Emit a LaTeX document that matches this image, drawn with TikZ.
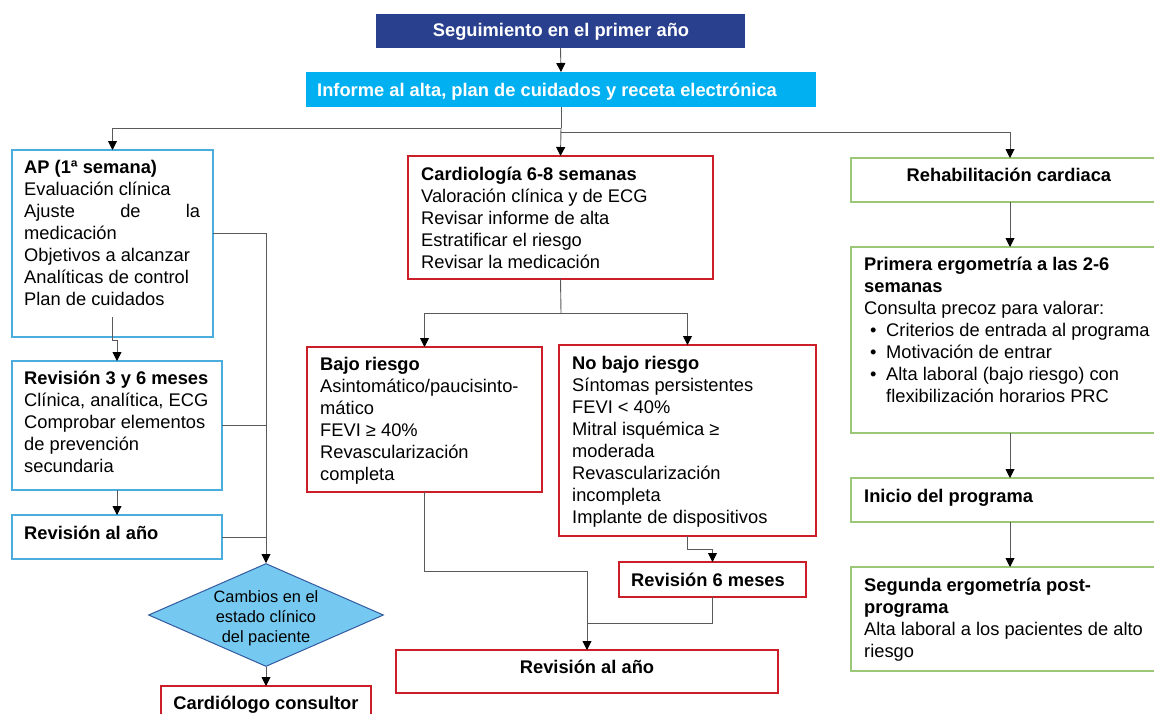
\documentclass[tikz,border=0pt]{standalone}
\usepackage{fontspec}
\setmainfont{Liberation Sans}
\usetikzlibrary{arrows.meta,shapes.geometric}
\definecolor{navyb}{RGB}{41,64,143}
\definecolor{cyanb}{RGB}{0,176,240}
\definecolor{blueb}{RGB}{75,172,222}
\definecolor{redb}{RGB}{204,30,40}
\definecolor{greenb}{RGB}{155,200,120}
\definecolor{diafill}{RGB}{117,201,240}
\definecolor{diadraw}{RGB}{50,90,160}
\definecolor{linec}{RGB}{90,90,90}
\begin{document}
\begin{tikzpicture}[x=1pt,y=-1pt,
  bx/.style 2 args={minimum width=#1, minimum height=#2, anchor=north west, inner sep=0pt, outer sep=0pt, line width=1.5pt},
  bluebox/.style={draw=blueb},
  redbox/.style={draw=redb},
  greenbox/.style={draw=greenb},
  txt/.style={inner sep=0pt, anchor=base west, font=\fontsize{18.3}{22}\selectfont},
  ctxt/.style={inner sep=0pt, anchor=base, font=\fontsize{18.3}{22}\selectfont},
  conn/.style={draw=linec, line width=0.9pt},
  arr/.style={conn, -{Triangle[width=9pt,length=9pt,color=black]}}]
\useasboundingbox (0,0) rectangle (1154,713);
\fill[white] (0,0) rectangle (1154,713);
\clip (0,0) rectangle (1154,713);

% top
\node[bx={369pt}{34pt}, fill=navyb] (title) at (376,14) {};
\node[ctxt, text=white] (titlet) at (561,36) {\textbf{Seguimiento en el primer año}};
\node[bx={510pt}{35pt}, fill=cyanb] (inf) at (306,72) {};
\node[txt, text=white] (inft) at (317,96) {\textbf{Informe al alta, plan de cuidados y receta electrónica}};

% left column
\node[bx={201pt}{187pt}, bluebox] (ap) at (12,150) {};
\node[txt] (apt) at (24,173) {\parbox[t]{190pt}{\textbf{AP (1ª semana)}\\Evaluación clínica\\\hbox to 176pt{Ajuste\hfill de\hfill la}\\medicación\\Objetivos a alcanzar\\Analíticas de control\\Plan de cuidados}};
\node[bx={210pt}{129pt}, bluebox] (rev36) at (12,361) {};
\node[txt] (rev36t) at (24,384) {\parbox[t]{200pt}{\textbf{Revisión 3 y 6 meses}\\Clínica, analítica, ECG\\Comprobar elementos\\de prevención\\secundaria}};
\node[bx={210pt}{44pt}, bluebox] (revl) at (12,515) {};
\node[txt] (revlt) at (24,539) {\textbf{Revisión al año}};

\node[diamond, draw=diadraw, fill=diafill, line width=1pt, minimum width=235pt, minimum height=103pt, inner sep=0pt, aspect=2.28] (dia) at (266,615) {};
\node[inner sep=0pt, anchor=base, font=\fontsize{16.4}{20}\selectfont] (diat) at (266,602) {\parbox[t]{140pt}{\centering Cambios en el\\estado clínico\\del paciente}};
\node[bx={210pt}{40pt}, redbox] (cons) at (161,686) {};
\node[ctxt] (const) at (266,709) {\textbf{Cardiólogo consultor}};

% middle column
\node[bx={305pt}{123pt}, redbox] (card) at (408,156) {};
\node[txt] (cardt) at (421,180) {\parbox[t]{290pt}{\textbf{Cardiología 6-8 semanas}\\Valoración clínica y de ECG\\Revisar informe de alta\\Estratificar el riesgo\\Revisar la medicación}};
\node[bx={235pt}{145pt}, redbox] (bajo) at (307,347) {};
\node[txt] (bajot) at (320,370) {\parbox[t]{220pt}{\textbf{Bajo riesgo}\\Asintomático/paucisinto-\\mático\\FEVI ≥ 40\%\\Revascularización\\completa}};
\node[bx={257pt}{191pt}, redbox] (nobajo) at (559,345) {};
\node[txt] (nobajot) at (572,369) {\parbox[t]{240pt}{\textbf{No bajo riesgo}\\Síntomas persistentes\\FEVI < 40\%\\Mitral isquémica ≥\\moderada\\Revascularización\\incompleta\\Implante de dispositivos}};
\node[bx={187pt}{35pt}, redbox] (rev6) at (619,562) {};
\node[ctxt] (rev6t) at (708,586) {\textbf{Revisión 6 meses}};
\node[bx={382pt}{43pt}, redbox] (revm) at (396,650) {};
\node[ctxt] (revmt) at (587,673) {\textbf{Revisión al año}};

% right column
\node[bx={318pt}{44pt}, greenbox] (rehab) at (851,158) {};
\node[ctxt] (rehabt) at (1009,181) {\textbf{Rehabilitación cardiaca}};
\node[bx={318pt}{186pt}, greenbox] (prim) at (851,247) {};
\node[txt] (primt) at (864,270) {\parbox[t]{300pt}{\textbf{Primera ergometría a las 2-6}\\\textbf{semanas}\\Consulta precoz para valorar:\\\hspace*{6pt}\makebox[16pt][l]{•}Criterios de entrada al programa\\\hspace*{6pt}\makebox[16pt][l]{•}Motivación de entrar\\\hspace*{6pt}\makebox[16pt][l]{•}Alta laboral (bajo riesgo) con\\\hspace*{22pt}flexibilización horarios PRC}};
\node[bx={318pt}{44pt}, greenbox] (ini) at (851,478) {};
\node[txt] (init) at (864,502) {\textbf{Inicio del programa}};
\node[bx={318pt}{104pt}, greenbox] (seg) at (851,567) {};
\node[txt] (segt) at (864,591) {\parbox[t]{300pt}{\textbf{Segunda ergometría post-}\\\textbf{programa}\\Alta laboral a los pacientes de alto\\riesgo}};

% connectors
\coordinate (spl) at (561,128);
\coordinate (spr) at (561,132);
\draw[arr] (title.south) -- (inf.north);
\draw[conn] (inf.south) -- (spl);
\draw[arr] (spl) -| (ap.north);
\draw[arr] (spl) -- (card.north);
\draw[arr] (spr) -| (rehab.north);

\draw[arr] ([yshift=20pt]ap.south) -- ++(0,23) -| (rev36.north);
\draw[arr] (rev36.south) -- (revl.north);
\coordinate (jt) at (266,233);
\draw[conn] (ap.east |- jt) -- (jt);
\draw[arr] (jt) -- (dia.north);
\draw[conn] (rev36.east) -- (rev36.east -| jt);
\draw[conn] (revl.east) -- (revl.east -| jt);
\draw[arr] (dia.south) -- (cons.north);

\coordinate (cj) at (561,313);
\draw[conn] (card.south) -- (cj);
\draw[arr] (cj) -| (bajo.north);
\draw[arr] (cj) -| (nobajo.north);
\draw[arr] (nobajo.south) -- ++(0,13) -| (rev6.north);
\draw[arr] (bajo.south) -- ++(0,79) -| (revm.north);
\draw[conn] (rev6.south) |- (revm.north |- 0,623);

\draw[arr] (rehab.south) -- (prim.north);
\draw[arr] (prim.south) -- (ini.north);
\draw[arr] (ini.south) -- (seg.north);
\end{tikzpicture}
\end{document}
